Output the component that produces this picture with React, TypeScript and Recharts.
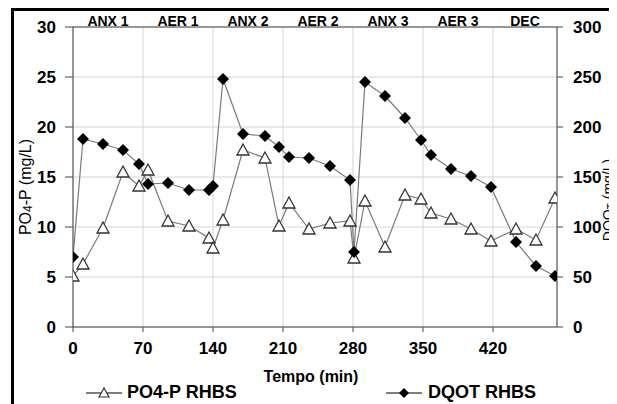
import { LineChart, Line, XAxis, YAxis, CartesianGrid } from "recharts";

// tempo de amostragem (min)
const tempo = [0, 10, 30, 50, 66, 75, 95, 116, 136, 140, 150, 170, 192, 206, 216, 236, 257, 277, 281, 292, 312, 332, 348, 358, 378, 398, 418, 443, 463, 482];
// PO4-P RHBS (mg/L)
const po4 = [5.1, 6.3, 9.9, 15.5, 14.1, 15.7, 10.6, 10.1, 8.9, 7.9, 10.7, 17.7, 16.9, 10.1, 12.4, 9.8, 10.4, 10.6, 6.9, 12.6, 8.0, 13.2, 12.8, 11.4, 10.8, 9.8, 8.6, 9.8, 8.7, 12.9];
// DQOT RHBS (mg/L)
const dqo = [70, 188, 183, 177, 163, 143, 144, 137, 137, 141, 248, 193, 191, 180, 170, 169, 161, 147, 75, 245, 231, 209, 187, 172, 158, 151, 140, 85, 61, 51];

const xTicks = [0, 70, 140, 210, 280, 350, 420];
const fases = ["ANX 1", "AER 1", "ANX 2", "AER 2", "ANX 3", "AER 3", "DEC"];
const faseMeio = [35, 105, 175, 245, 315, 385, 452];
const leftTicks = [0, 5, 10, 15, 20, 25, 30];
const rightTicks = [0, 50, 100, 150, 200, 250, 300];

const data = tempo.map((t, i) => ({ t, po4: po4[i], dqo: dqo[i] }));

const FONT = "'Liberation Sans', Arial, sans-serif";
const AXIS = "#444";

const Triangle = (p: any) => {
  const { cx, cy } = p;
  if (cx == null || cy == null) return <g key={`tri-${p.index}`} />;
  return (
    <polygon
      key={`tri-${p.index}`}
      points={`${cx},${cy - 6} ${cx - 6},${cy + 5} ${cx + 6},${cy + 5}`}
      fill="#fff"
      stroke="#333"
      strokeWidth={1.3}
    />
  );
};

const Diamond = (p: any) => {
  const { cx, cy } = p;
  if (cx == null || cy == null) return <g key={`dia-${p.index}`} />;
  return (
    <polygon
      key={`dia-${p.index}`}
      points={`${cx},${cy - 6} ${cx + 6},${cy} ${cx},${cy + 6} ${cx - 6},${cy}`}
      fill="#000"
    />
  );
};

const LeftTitle = (props: any) => {
  const vb = props.viewBox || { x: 0, y: 0, width: 0, height: 0 };
  const x = vb.x - 4;
  const y = vb.y + vb.height / 2 + 10;
  return (
    <text x={x} y={y} transform={`rotate(-90 ${x} ${y})`} textAnchor="middle" dominantBaseline="central" fontFamily={FONT} fontSize={16} fill="#000">
      PO<tspan fontSize={12} dy={3}>4</tspan><tspan dy={-3}>-P (mg/L)</tspan>
    </text>
  );
};

const RightTitle = (props: any) => {
  const vb = props.viewBox || { x: 0, y: 0, width: 0, height: 0 };
  const x = vb.x + 51;
  const y = vb.y + vb.height / 2 + 23;
  return (
    <text x={x} y={y} transform={`rotate(-90 ${x} ${y})`} textAnchor="middle" dominantBaseline="central" fontFamily={FONT} fontSize={14} fill="#000">
      DQO<tspan fontSize={10} dy={3}>T</tspan><tspan dy={-3}> (mg/L)</tspan>
    </text>
  );
};

const BottomTitle = (props: any) => {
  const vb = props.viewBox || { x: 0, y: 0, width: 0, height: 0 };
  return (
    <text x={vb.x + vb.width / 2 - 4} y={vb.y + 55} textAnchor="middle" fontFamily={FONT} fontSize={16} fontWeight="bold" fill="#000">
      Tempo (min)
    </text>
  );
};

const legendText: React.CSSProperties = {
  position: "absolute",
  fontFamily: FONT,
  fontWeight: "bold",
  fontSize: 18,
  lineHeight: "18px",
  whiteSpace: "nowrap",
};

export default function App() {
  return (
    <div
      style={{
        position: "relative",
        marginLeft: 3,
        borderLeft: "3px solid #000",
        borderTop: "3px solid #000",
        width: 603,
        height: 393,
        overflow: "hidden",
      }}
    >
      <LineChart width={603} height={393} data={data} margin={{ top: 0, right: 10, bottom: 47, left: 15 }}>
        <CartesianGrid stroke="#d4d4d4" strokeWidth={1} />
        <XAxis
          dataKey="t"
          type="number"
          domain={[0, 484]}
          ticks={xTicks}
          allowDataOverflow
          height={30}
          stroke={AXIS}
          tickSize={5}
          tickMargin={10}
          tick={{ fill: "#000", fontFamily: FONT, fontSize: 17, fontWeight: "bold" }}
          label={<BottomTitle />}
        />
        <XAxis
          xAxisId="top"
          orientation="top"
          dataKey="t"
          type="number"
          domain={[0, 484]}
          ticks={faseMeio}
          tickFormatter={(v: number) => fases[faseMeio.indexOf(v)] ?? ""}
          height={16}
          stroke={AXIS}
          tickLine={false}
          tickSize={0}
          tickMargin={1}
          interval={0}
          tick={{ fill: "#000", fontFamily: FONT, fontSize: 14, fontWeight: "bold" }}
        />
        <YAxis
          domain={[0, 30]}
          ticks={leftTicks}
          width={44}
          stroke={AXIS}
          tickSize={8}
          tickMargin={9}
          tick={{ fill: "#000", fontFamily: FONT, fontSize: 17, fontWeight: "bold" }}
          label={<LeftTitle />}
        />
        <YAxis
          yAxisId="right"
          orientation="right"
          domain={[0, 300]}
          ticks={rightTicks}
          width={50}
          stroke={AXIS}
          tickSize={6}
          tickMargin={10}
          tick={{ fill: "#000", fontFamily: FONT, fontSize: 17, fontWeight: "bold" }}
          label={<RightTitle />}
        />
        <Line
          dataKey="po4"
          stroke="#7a7a7a"
          strokeWidth={1.2}
          dot={Triangle}
          activeDot={false}
          isAnimationActive={false}
        />
        <Line
          yAxisId="right"
          dataKey="dqo"
          stroke="#7a7a7a"
          strokeWidth={1.2}
          dot={Diamond}
          activeDot={false}
          isAnimationActive={false}
        />
      </LineChart>

      {/* legenda */}
      <svg style={{ position: "absolute", left: 70, top: 374 }} width={40} height={16}>
        <line x1={2} y1={8} x2={38} y2={8} stroke="#555" strokeWidth={1.3} />
        <polygon points="20,3 15,12 25,12" fill="#fff" stroke="#333" strokeWidth={1.2} />
      </svg>
      <span style={{ ...legendText, left: 113, top: 372 }}>PO4-P RHBS</span>
      <svg style={{ position: "absolute", left: 370, top: 374 }} width={40} height={16}>
        <line x1={2} y1={8} x2={38} y2={8} stroke="#555" strokeWidth={1.3} />
        <polygon points="20,3 25,8 20,13 15,8" fill="#000" />
      </svg>
      <span style={{ ...legendText, left: 414, top: 372 }}>DQOT RHBS</span>
    </div>
  );
}
